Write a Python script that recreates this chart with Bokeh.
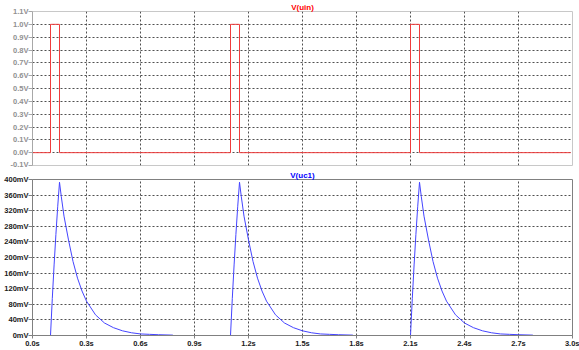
from bokeh.plotting import figure
from bokeh.layouts import column
from bokeh.models import FixedTicker, Range1d, Title
from bokeh.embed import file_html
from bokeh.resources import INLINE

# ---- data ----
time_ticks = [0.0, 0.3, 0.6, 0.9, 1.2, 1.5, 1.8, 2.1, 2.4, 2.7, 3.0]
time_labels = ["0.0s", "0.3s", "0.6s", "0.9s", "1.2s", "1.5s", "1.8s", "2.1s", "2.4s", "2.7s", "3.0s"]

uin_ticks = [-0.1, 0.0, 0.1, 0.2, 0.3, 0.4, 0.5, 0.6, 0.7, 0.8, 0.9, 1.0, 1.1]
uin_labels = ["-0.1V", "0.0V", "0.1V", "0.2V", "0.3V", "0.4V", "0.5V", "0.6V", "0.7V", "0.8V", "0.9V", "1.0V", "1.1V"]

uc1_ticks = [0, 40, 80, 120, 160, 200, 240, 280, 320, 360, 400]
uc1_labels = ["0mV", "40mV", "80mV", "120mV", "160mV", "200mV", "240mV", "280mV", "320mV", "360mV", "400mV"]

# V(uin): rectangular pulses
uin_t = [0.0, 0.1, 0.1, 0.15, 0.15, 1.1, 1.1, 1.15, 1.15, 2.1, 2.1, 2.15, 2.15, 2.99]
uin_v = [0.0, 0.0, 1.0, 1.0, 0.0, 0.0, 1.0, 1.0, 0.0, 0.0, 1.0, 1.0, 0.0, 0.0]

# V(uc1): one charge/discharge shape, repeated at each pulse start
pulse_starts = [0.1, 1.1, 2.1]
uc1_t_rel = [0.0, 0.01, 0.02, 0.03, 0.04, 0.05, 0.06, 0.075, 0.1, 0.125, 0.15, 0.175,
             0.2, 0.25, 0.3, 0.35, 0.4, 0.45, 0.5, 0.55, 0.6, 0.68]
uc1_mv = [0, 95, 181, 259, 330, 393, 356, 306, 245, 190, 147, 114,
          88, 53, 32, 20, 12, 7, 4, 3, 2, 1]

FONT = "Liberation Sans"
W = 579
BL = 32
BR = 7


def style(p, label_color, frame_color, axis_color, ticks, labels, show_x):
    p.background_fill_color = "white"
    p.border_fill_color = "white"
    p.outline_line_color = frame_color
    p.outline_line_width = 1
    p.min_border_left = BL
    p.min_border_right = BR
    yax = p.yaxis[0]
    yax.ticker = FixedTicker(ticks=ticks)
    yax.major_label_overrides = {t: l for t, l in zip(ticks, labels)}
    yax.major_label_text_font = FONT
    yax.major_label_text_font_size = "7.5px"
    yax.major_label_text_font_style = "bold"
    yax.major_label_text_color = label_color
    yax.major_label_standoff = 0
    yax.axis_label_standoff = 0
    yax.major_tick_out = 4
    yax.major_tick_in = 0
    yax.minor_tick_line_color = None
    yax.axis_line_color = axis_color
    yax.major_tick_line_color = axis_color
    xax = p.xaxis[0]
    if show_x:
        xax.ticker = FixedTicker(ticks=time_ticks)
        xax.major_tick_out = 3
        xax.major_tick_in = 0
        xax.minor_tick_line_color = None
        xax.axis_line_color = axis_color
        xax.major_tick_line_color = axis_color
        xax.major_label_overrides = {t: l for t, l in zip(time_ticks, time_labels)}
        xax.major_label_text_font = FONT
        xax.major_label_text_font_size = "7.5px"
        xax.major_label_text_font_style = "bold"
        xax.major_label_text_color = label_color
        xax.major_label_standoff = 0
        xax.axis_label_standoff = 0
    else:
        xax.visible = False
    p.xgrid.ticker = FixedTicker(ticks=time_ticks)
    p.ygrid.ticker = FixedTicker(ticks=ticks)
    for g in (p.xgrid[0], p.ygrid[0]):
        g.grid_line_color = "#505050"
        g.grid_line_dash = "2 2"
        g.grid_line_width = 1


x_range = Range1d(0, 3)

p1 = figure(width=W, height=168, x_range=x_range, y_range=Range1d(-0.1, 1.1),
            output_backend="svg", toolbar_location=None,
            min_border_top=8, min_border_bottom=3)
style(p1, "#909090", "#c8c8c8", "#a8a8a8", uin_ticks, uin_labels, False)
p1.line(uin_t, uin_v, line_color="#f03c3c", line_width=1)
p1.title = Title(text="V(uin)", align="center", text_font=FONT, text_font_size="8px",
                 text_font_style="bold", text_color="#ff0000", standoff=0, offset=0)

p2 = figure(width=W, height=182, x_range=x_range, y_range=Range1d(0, 400),
            output_backend="svg", toolbar_location=None,
            min_border_top=8, min_border_bottom=12)
style(p2, "#202020", "#808080", "#808080", uc1_ticks, uc1_labels, True)
xs = [[s + t for t in uc1_t_rel] for s in pulse_starts]
ys = [list(uc1_mv) for _ in pulse_starts]
p2.multi_line(xs, ys, line_color="#4444ff", line_width=1)
p2.title = Title(text="V(uc1)", align="center", text_font=FONT, text_font_size="8px",
                 text_font_style="bold", text_color="#0000ff", standoff=0, offset=0)

layout = column(p1, p2, spacing=0)
open("out.html", "w").write(file_html(layout, INLINE))
